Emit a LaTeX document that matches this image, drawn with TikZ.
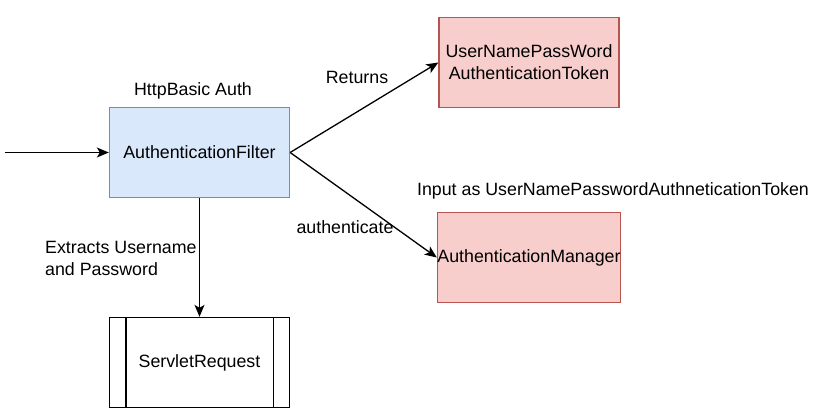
\documentclass[tikz,border=0pt]{standalone}
\usepackage{fontspec}
\setmainfont{Liberation Sans}
\usetikzlibrary{arrows.meta}
\definecolor{bluefill}{HTML}{DAE8FC}
\definecolor{bluedraw}{HTML}{6C8EBF}
\definecolor{redfill}{HTML}{F8CECC}
\definecolor{reddraw}{HTML}{B85450}
\begin{document}
\begin{tikzpicture}[x=1pt,y=-1pt,
  every node/.style={font=\fontsize{17.8}{22}\selectfont, inner sep=0pt},
  bluebox/.style={draw=bluedraw, fill=bluefill, line width=1.3pt, minimum width=180pt, minimum height=90pt},
  redbox/.style={draw=reddraw, fill=redfill, line width=1.3pt, minimum width=180pt, minimum height=90pt, align=center},
  procbox/.style={draw=black, fill=white, line width=1.3pt, minimum width=180pt, minimum height=90pt},
  conn/.style={draw=black, line width=1.3pt, -{Stealth[length=12pt,width=10pt,inset=3pt]}},
  lbl/.style={fill=none}]
\useasboundingbox (0,0) rectangle (839,417);
\node[bluebox] (filter) at (199.5,152.5) {AuthenticationFilter};
\node[redbox] (token) at (529,62.5) {UserNamePassWord\\AuthenticationToken};
\node[redbox] (mgr) at (529,257.5) {AuthenticationManager};
\node[procbox] (req) at (199.5,362.5) {ServletRequest};
\draw[line width=1.3pt] ([xshift=17pt]req.north west) -- ([xshift=17pt]req.south west);
\draw[line width=1.3pt] ([xshift=-17pt]req.north east) -- ([xshift=-17pt]req.south east);
\coordinate (start) at (5,152.5);
\draw[conn] (start) -- (filter.west);
\draw[conn] (filter.east) -- (token.west);
\draw[conn] (filter.east) -- (mgr.west);
\draw[conn] (filter.south) -- (req.north);
\node[lbl] (lhttp) at (193,91) {HttpBasic Auth};
\node[lbl] (lret) at (357,77) {Returns};
\node[lbl] (linput) at (613,191) {Input as UserNamePasswordAuthneticationToken};
\node[lbl] (lauth) at (345,227) {authenticate};
\node[lbl, align=left, anchor=west] (lext) at (45,258) {Extracts Username\\and Password};
\end{tikzpicture}
\end{document}
